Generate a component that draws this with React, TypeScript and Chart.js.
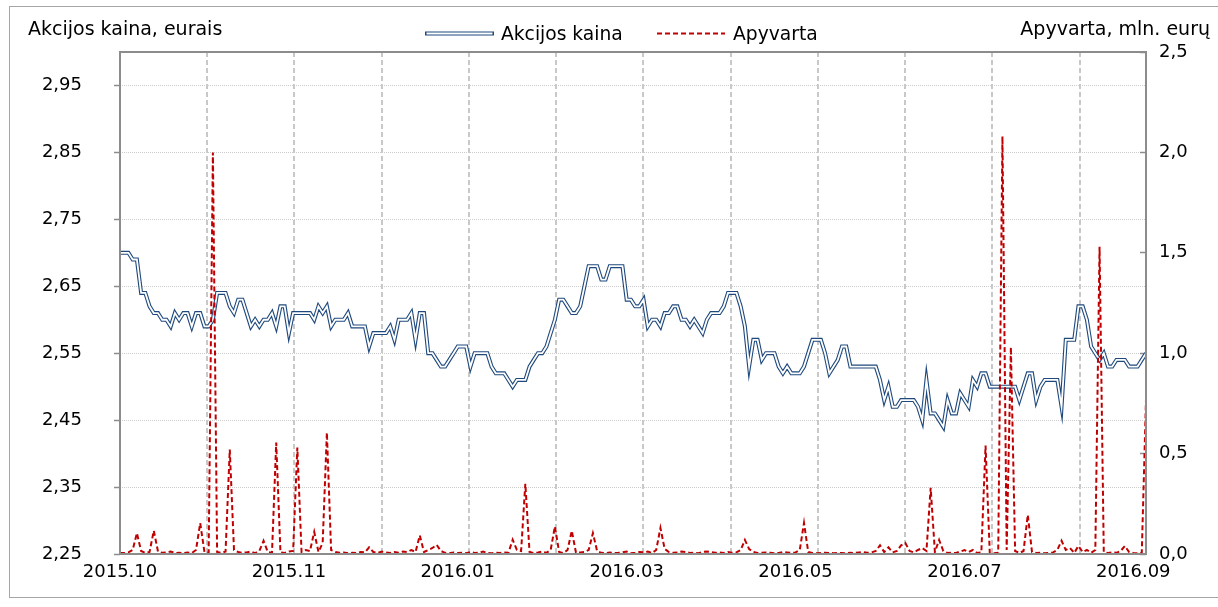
import React, { useEffect, useRef } from 'react';
import { Chart, registerables } from 'chart.js';

Chart.register(...registerables);

// ---- Data ----
const X_TICK_LABELS = ['2015.10', '2015.11', '2016.01', '2016.03', '2016.05', '2016.07', '2016.09'];
const X_TICK_INDEX = [0, 40, 80, 120, 160, 200, 240];
const PRICE_TICKS = [2.25, 2.35, 2.45, 2.55, 2.65, 2.75, 2.85, 2.95];
const VOLUME_TICKS = [0, 0.5, 1.0, 1.5, 2.0, 2.5];

// Akcijos kaina, eurais (daily)
const PRICE = [
  2.70, 2.70, 2.70, 2.69, 2.69, 2.64, 2.64, 2.62, 2.61, 2.61,
  2.60, 2.60, 2.59, 2.61, 2.60, 2.61, 2.61, 2.59, 2.61, 2.61,
  2.59, 2.59, 2.60, 2.64, 2.64, 2.64, 2.62, 2.61, 2.63, 2.63,
  2.61, 2.59, 2.60, 2.59, 2.60, 2.60, 2.61, 2.59, 2.62, 2.62,
  2.58, 2.61, 2.61, 2.61, 2.61, 2.61, 2.60, 2.62, 2.61, 2.62,
  2.59, 2.60, 2.60, 2.60, 2.61, 2.59, 2.59, 2.59, 2.59, 2.56,
  2.58, 2.58, 2.58, 2.58, 2.59, 2.57, 2.60, 2.60, 2.60, 2.61,
  2.57, 2.61, 2.61, 2.55, 2.55, 2.54, 2.53, 2.53, 2.54, 2.55,
  2.56, 2.56, 2.56, 2.53, 2.55, 2.55, 2.55, 2.55, 2.53, 2.52,
  2.52, 2.52, 2.51, 2.50, 2.51, 2.51, 2.51, 2.53, 2.54, 2.55,
  2.55, 2.56, 2.58, 2.60, 2.63, 2.63, 2.62, 2.61, 2.61,
  2.62, 2.65, 2.68, 2.68, 2.68, 2.66, 2.66, 2.68, 2.68, 2.68,
  2.68, 2.63, 2.63, 2.62, 2.62, 2.63, 2.59, 2.60, 2.60, 2.59,
  2.61, 2.61, 2.62, 2.62, 2.60, 2.60, 2.59, 2.60, 2.59, 2.58,
  2.60, 2.61, 2.61, 2.61, 2.62, 2.64, 2.64, 2.64, 2.62, 2.59,
  2.53, 2.57, 2.57, 2.54, 2.55, 2.55, 2.55, 2.53, 2.52, 2.53,
  2.52, 2.52, 2.52, 2.53, 2.55, 2.57, 2.57, 2.57, 2.55, 2.52,
  2.53, 2.54, 2.56, 2.56, 2.53, 2.53, 2.53, 2.53, 2.53, 2.53,
  2.53, 2.51, 2.48, 2.50, 2.47, 2.47, 2.48, 2.48, 2.48, 2.48,
  2.47, 2.45, 2.51, 2.46, 2.46, 2.45, 2.44, 2.48, 2.46, 2.46,
  2.49, 2.48, 2.47, 2.51, 2.50, 2.52, 2.52, 2.50, 2.50, 2.50,
  2.50, 2.50, 2.50, 2.50, 2.48, 2.50, 2.52, 2.52, 2.48, 2.50,
  2.51, 2.51, 2.51, 2.51, 2.47, 2.57, 2.57, 2.57, 2.62, 2.62,
  2.60, 2.56, 2.55, 2.54, 2.55, 2.53, 2.53, 2.54, 2.54, 2.54,
  2.53, 2.53, 2.53, 2.54, 2.55,
];

// Apyvarta, mln. eurų (daily)
const VOLUME = [
  0.005, 0.005, 0.008, 0.02, 0.104, 0.015, 0.005, 0.01, 0.116, 0.012,
  0.006, 0.008, 0.012, 0.005, 0.006, 0.004, 0.008, 0.005, 0.02, 0.154,
  0.01, 0.006, 2.00, 0.01, 0.005, 0.012, 0.52, 0.02, 0.01, 0.006,
  0.008, 0.012, 0.004, 0.015, 0.066, 0.01, 0.006, 0.555, 0.008, 0.005,
  0.012, 0.015, 0.53, 0.01, 0.02, 0.015, 0.11, 0.01, 0.055, 0.605,
  0.02, 0.01, 0.006, 0.008, 0.004, 0.006, 0.005, 0.01, 0.008, 0.033,
  0.01, 0.005, 0.012, 0.008, 0.005, 0.01, 0.006, 0.012, 0.01, 0.02,
  0.01, 0.093, 0.01, 0.02, 0.03, 0.046, 0.015, 0.006, 0.004, 0.008,
  0.005, 0.006, 0.004, 0.01, 0.005, 0.006, 0.012, 0.005, 0.004, 0.006,
  0.005, 0.008, 0.006, 0.071, 0.02, 0.015, 0.35, 0.01, 0.005, 0.008,
  0.012, 0.006, 0.02, 0.137, 0.01, 0.005, 0.02, 0.116, 0.006,
  0.008, 0.01, 0.02, 0.104, 0.015, 0.006, 0.004, 0.008, 0.005, 0.006,
  0.008, 0.012, 0.004, 0.006, 0.01, 0.008, 0.012, 0.005, 0.02, 0.13,
  0.025, 0.01, 0.006, 0.008, 0.012, 0.01, 0.005, 0.006, 0.004, 0.01,
  0.012, 0.01, 0.006, 0.008, 0.005, 0.01, 0.006, 0.008, 0.02, 0.07,
  0.025, 0.01, 0.005, 0.006, 0.008, 0.006, 0.004, 0.005, 0.01, 0.008,
  0.005, 0.008, 0.02, 0.155, 0.01, 0.005, 0.004, 0.005, 0.006, 0.005,
  0.004, 0.006, 0.005, 0.004, 0.006, 0.005, 0.008, 0.01, 0.006, 0.008,
  0.015, 0.043, 0.01, 0.033, 0.008, 0.015, 0.043, 0.055, 0.015, 0.008,
  0.02, 0.03, 0.015, 0.33, 0.01, 0.07, 0.015, 0.005, 0.006, 0.005,
  0.012, 0.02, 0.01, 0.02, 0.005, 0.008, 0.54, 0.005, 0.004, 0.006,
  2.08, 0.02, 1.03, 0.015, 0.005, 0.015, 0.195, 0.01, 0.005, 0.006,
  0.004, 0.005, 0.008, 0.02, 0.066, 0.02, 0.03, 0.005, 0.04, 0.01,
  0.02, 0.006, 0.02, 1.53, 0.01, 0.005, 0.008, 0.006, 0.015, 0.04,
  0.01, 0.005, 0.004, 0.006, 0.77,
];

// ---- Styles ----
const FONT = 'DejaVu Sans';
const BLUE = '#1F497D';
const RED = '#C00000';
const GRID_STEP = 20.66; // vertical dashed grid spacing, in trading-day units
const GRID_COUNT = 11;

export default function App() {
  const ref = useRef<HTMLCanvasElement>(null);

  useEffect(() => {
    const canvas = ref.current;
    if (!canvas) return;

    const priceData = PRICE.map((v, i) => ({ x: i, y: v }));
    const volumeData = VOLUME.map((v, i) => ({ x: i, y: v }));
    const labelAt = new Map<number, string>(X_TICK_INDEX.map((v, i) => [v, X_TICK_LABELS[i]]));
    const gridTicks = Array.from({ length: GRID_COUNT }, (_, k) => (k + 1) * GRID_STEP);

    const decor = {
      id: 'decor',
      afterDraw(chart: any) {
        const { ctx, chartArea: a } = chart;
        ctx.save();
        // plot border
        ctx.strokeStyle = '#8c8c8c';
        ctx.lineWidth = 2;
        ctx.setLineDash([]);
        ctx.strokeRect(a.left, a.top, a.right - a.left, a.bottom - a.top);
        // outer chart border
        ctx.strokeStyle = '#a6a6a6';
        ctx.lineWidth = 1;
        ctx.strokeRect(9.5, 6.5, 1220, 591);
        // axis titles
        ctx.fillStyle = '#000';
        ctx.font = `19px "${FONT}"`;
        ctx.textBaseline = 'alphabetic';
        ctx.textAlign = 'left';
        ctx.fillText('Akcijos kaina, eurais', 28, 35);
        ctx.textAlign = 'right';
        ctx.fillText('Apyvarta, mln. eurų', 1210, 35);
        // legend
        ctx.font = `18.7px "${FONT}"`;
        ctx.textAlign = 'left';
        ctx.lineCap = 'butt';
        ctx.strokeStyle = BLUE;
        ctx.lineWidth = 4;
        ctx.beginPath();
        ctx.moveTo(425, 33.5);
        ctx.lineTo(494, 33.5);
        ctx.stroke();
        ctx.strokeStyle = '#fff';
        ctx.lineWidth = 1.8;
        ctx.beginPath();
        ctx.moveTo(426.5, 33.5);
        ctx.lineTo(492.5, 33.5);
        ctx.stroke();
        ctx.fillText('Akcijos kaina', 501, 39.5);
        ctx.strokeStyle = RED;
        ctx.lineWidth = 2;
        ctx.setLineDash([5, 3]);
        ctx.beginPath();
        ctx.moveTo(657, 33.5);
        ctx.lineTo(725, 33.5);
        ctx.stroke();
        ctx.setLineDash([]);
        ctx.fillText('Apyvarta', 733, 39.5);
        ctx.restore();
      },
    };

    const tickFont = { family: FONT, size: 18 };

    const chart = new Chart(canvas, {
      type: 'line',
      data: {
        datasets: [
          {
            label: 'Apyvarta',
            data: volumeData,
            yAxisID: 'y1',
            borderColor: RED,
            borderWidth: 2,
            borderDash: [5, 3],
            pointRadius: 0,
            tension: 0,
            order: 0,
          },
          {
            label: 'Akcijos kaina',
            data: priceData,
            yAxisID: 'y',
            borderColor: '#ffffff',
            borderWidth: 1.8,
            pointRadius: 0,
            tension: 0,
            order: 1,
          },
          {
            label: 'Akcijos kaina',
            data: priceData,
            yAxisID: 'y',
            borderColor: BLUE,
            borderWidth: 4,
            pointRadius: 0,
            tension: 0,
            order: 2,
          },
        ],
      },
      options: {
        responsive: false,
        animation: false,
        events: [],
        layout: { padding: { top: 52, left: 0, right: 0, bottom: 0 } },
        plugins: { legend: { display: false }, tooltip: { enabled: false } },
        scales: {
          x: {
            type: 'linear',
            min: 0,
            max: PRICE.length - 1,
            afterBuildTicks: (s: any) => {
              const vals = [...X_TICK_INDEX, ...gridTicks].sort((p, q) => p - q);
              s.ticks = vals.map((v) => ({ value: v }));
            },
            afterFit: (s: any) => {
              s.height = 53;
            },
            ticks: {
              autoSkip: false,
              maxRotation: 0,
              minRotation: 0,
              padding: 8,
              color: '#000',
              font: tickFont,
              callback: (v: any) => labelAt.get(v as number) ?? '',
            },
            grid: {
              drawTicks: false,
              lineWidth: 2,
              color: (c: any) =>
                c.tick && !labelAt.has(c.tick.value) ? '#c8c8c8' : 'rgba(0,0,0,0)',
            },
            border: { display: false, dash: [5, 3] },
          },
          y: {
            type: 'linear',
            position: 'left',
            min: 2.25,
            max: 3.0,
            afterBuildTicks: (s: any) => {
              s.ticks = PRICE_TICKS.map((v) => ({ value: v }));
            },
            afterFit: (s: any) => {
              s.width = 120;
            },
            ticks: {
              padding: 32,
              color: '#000',
              font: tickFont,
              callback: (v: any) => Number(v).toFixed(2).replace('.', ','),
            },
            grid: {
              color: '#cccccc',
              lineWidth: 1,
              tickLength: 6,
              tickColor: '#8c8c8c',
              tickWidth: 1.5,
            },
            border: { display: false, dash: [1, 1] },
          },
          y1: {
            type: 'linear',
            position: 'right',
            min: 0,
            max: 2.5,
            afterBuildTicks: (s: any) => {
              s.ticks = VOLUME_TICKS.map((v) => ({ value: v }));
            },
            afterFit: (s: any) => {
              s.width = 72;
            },
            ticks: {
              padding: 19,
              color: '#000',
              font: tickFont,
              callback: (v: any) => Number(v).toFixed(1).replace('.', ','),
            },
            grid: {
              drawOnChartArea: false,
              tickLength: -6,
              tickColor: '#8c8c8c',
              tickWidth: 1.5,
            },
            border: { display: false },
          },
        },
      },
      plugins: [decor],
    } as any);

    return () => chart.destroy();
  }, []);

  return (
    <div style={{ position: 'absolute', left: 0, top: 0, width: 1218, height: 607, background: '#fff' }}>
      <canvas ref={ref} width={1218} height={607} style={{ display: 'block' }} />
    </div>
  );
}
